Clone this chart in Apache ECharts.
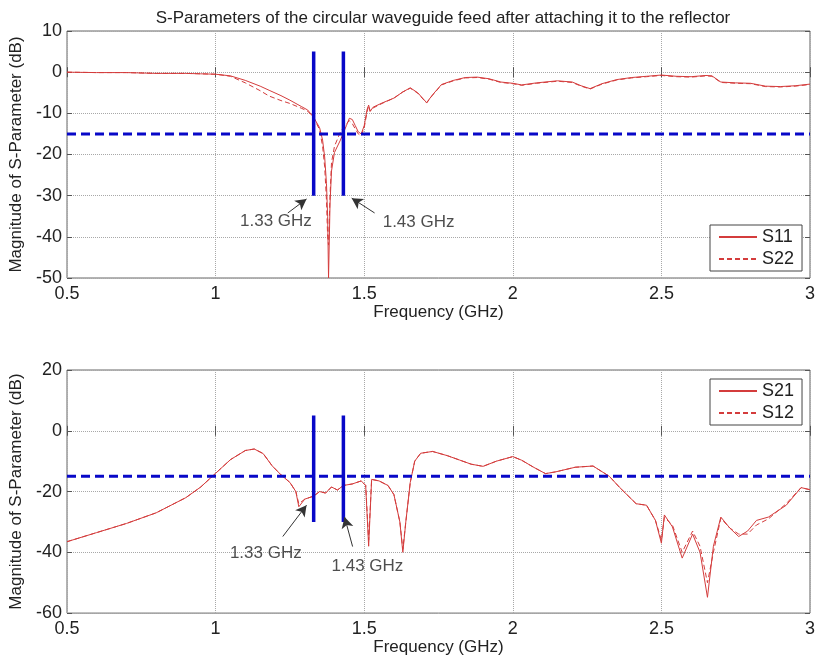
<!DOCTYPE html>
<html>
<head>
<meta charset="utf-8">
<script src="https://cdn.jsdelivr.net/npm/echarts@6/dist/echarts.min.js"></script>
<style>
    html, body { margin: 0; padding: 0; background: #fff; }
    #chart { width: 818px; height: 657px; }
</style>
</head>
<body>
<div id="chart"></div>
<script>
// frequency points (GHz) for the reflection plot
const freqTop = [0.5, 0.6, 0.7, 0.8, 0.9, 0.95, 1.0, 1.05, 1.1, 1.15,
    1.18, 1.22, 1.25, 1.29, 1.31, 1.33, 1.35, 1.36, 1.367, 1.373,
    1.377, 1.38, 1.385, 1.39, 1.40, 1.42, 1.44, 1.45, 1.46, 1.47,
    1.48, 1.49, 1.50, 1.51, 1.515, 1.52, 1.53, 1.56, 1.6, 1.63,
    1.655, 1.68, 1.71, 1.73, 1.76, 1.8, 1.84, 1.88, 1.92, 1.96,
    2.0, 2.03, 2.08, 2.15, 2.2, 2.23, 2.26, 2.3, 2.35, 2.4,
    2.45, 2.5, 2.55, 2.6, 2.65, 2.67, 2.7, 2.75, 2.8, 2.85,
    2.9, 2.95, 3.0];
const s11 = [0, -0.1, -0.1, -0.3, -0.3, -0.4, -0.5, -0.9, -2.0, -3.4,
    -4.4, -5.7, -6.8, -8.4, -9.2, -11, -13.5, -16.5, -20.6, -27,
    -35, -50, -32, -24, -19.5, -16.5, -13, -11.2, -11.5, -13,
    -14.5, -15, -13, -9, -8, -9.5, -8.5, -7.5, -6.3, -4.8,
    -3.8, -5, -7.4, -5.5, -3, -2, -1.3, -1.2, -1.6, -2.4,
    -2.7, -3.1, -2.6, -2.1, -2.4, -3.3, -4.0, -2.8, -1.8, -1.3,
    -1.0, -0.7, -1.0, -1.1, -0.8, -0.9, -2.4, -2.6, -2.7, -3.4,
    -3.5, -3.3, -2.9];
const s22 = [0, -0.1, -0.1, -0.3, -0.3, -0.4, -0.5, -1.0, -2.6, -4.5,
    -5.8, -6.9, -7.6, -8.8, -9.5, -11, -14, -18, -23, -31,
    -40, -42, -30, -22, -18, -14.5, -12.5, -11.8, -12.5, -13.8,
    -15, -15.5, -13.5, -9.5, -8.2, -9.5, -8.7, -7.6, -6.3, -4.8,
    -3.9, -5.1, -7.5, -5.6, -3.1, -2.1, -1.4, -1.3, -1.7, -2.5,
    -2.8, -3.2, -2.7, -2.2, -2.5, -3.4, -4.1, -2.9, -1.9, -1.4,
    -1.1, -0.8, -1.1, -1.2, -0.9, -1.0, -2.5, -2.7, -2.8, -3.5,
    -3.6, -3.4, -3.0];

// frequency points (GHz) for the transmission plot
const freqBot = [0.5, 0.6, 0.7, 0.8, 0.9, 0.95, 1.0, 1.05, 1.1, 1.13,
    1.16, 1.19, 1.22, 1.25, 1.27, 1.28, 1.3, 1.33, 1.35, 1.37,
    1.39, 1.41, 1.43, 1.46, 1.49, 1.505, 1.515, 1.525, 1.55, 1.58,
    1.6, 1.62, 1.63, 1.64, 1.655, 1.67, 1.69, 1.73, 1.78, 1.82,
    1.86, 1.9, 1.945, 2.0, 2.03, 2.07, 2.11, 2.145, 2.21, 2.27,
    2.325, 2.36, 2.415, 2.45, 2.48, 2.5, 2.51, 2.537, 2.57, 2.605,
    2.63, 2.655, 2.675, 2.7, 2.73, 2.76, 2.79, 2.82, 2.86, 2.92,
    2.97, 3.0];
const s21 = [-36.5, -33.5, -30.5, -27, -22, -18.5, -14, -9.5, -6.5, -6,
    -7.5, -11.5, -14.5, -17, -20, -25, -22.5, -21.5, -20, -20.5,
    -18.5, -19.5, -18, -17.5, -16.5, -18, -38, -16, -16.5, -18,
    -21, -30, -40, -30, -17, -10, -7.4, -6.8, -8.2, -9.6,
    -11, -11.7, -10, -8.5, -9.7, -12, -14.1, -13.5, -12, -11.6,
    -15, -18.7, -24, -24.5, -29.5, -37, -27.7, -31.6, -41.9, -34,
    -40, -54.8, -38, -28.4, -32, -34.8, -33, -29.5, -28.4, -24.5,
    -18.7, -19.4];
const s12 = [-36.5, -33.5, -30.5, -27, -22, -18.5, -14, -9.5, -6.5, -6,
    -7.5, -11.5, -14.5, -17, -20, -24, -22.5, -21.5, -20, -20.5,
    -18.5, -19.5, -18, -17.5, -16.5, -18, -36, -16, -16.5, -18,
    -21, -30, -39, -30, -17, -10, -7.4, -6.8, -8.2, -9.6,
    -11, -11.7, -10, -8.5, -9.7, -12, -14.1, -13.5, -12, -11.6,
    -15, -18.7, -24, -24.5, -29.5, -36, -28.5, -31, -40, -33,
    -38, -50, -40, -28.8, -32, -34, -34, -31, -29, -24,
    -18.7, -19.4];

// blue markers: band edges and the -15 dB line
const bandEdges = [1.33, 1.43];
const edgeSpan = [5, -30];
const threshold = -15;

// annotations: label position, arrow tail, arrow head (data coords)
const notesTop = [
    { text: '1.33 GHz', at: [1.203, -36.3], from: [1.243, -34.2], to: [1.306, -30.8] },
    { text: '1.43 GHz', at: [1.683, -36.5], from: [1.535, -34.2], to: [1.458, -30.6] }
];
const notesBot = [
    { text: '1.33 GHz', at: [1.169, -40.3], from: [1.226, -34.8], to: [1.306, -24.5] },
    { text: '1.43 GHz', at: [1.511, -44.5], from: [1.461, -38.1], to: [1.434, -28.4] }
];

const FONT = '"Liberation Sans", Arial, sans-serif';
const RED = '#d43c3c';
const BLUE = '#0808c8';

const zip = (xs, ys) => xs.map((x, i) => [x, ys[i]]);

const chart = echarts.init(document.getElementById('chart'));

function xAxisFor(gridIndex, nameGap) {
    return {
        type: 'value', gridIndex, min: 0.5, max: 3, interval: 0.5,
        name: 'Frequency (GHz)', nameLocation: 'middle', nameGap,
        nameTextStyle: { fontFamily: FONT, fontSize: 17, color: '#222' },
        axisLine: { show: false },
        axisTick: { show: true, inside: true, length: 5, lineStyle: { color: '#555' } },
        axisLabel: { fontFamily: FONT, fontSize: 18, color: '#222', margin: 7 },
        splitLine: { show: true, lineStyle: { color: '#a8a8a8', type: 'dotted' } }
    };
}
function yAxisFor(gridIndex, min, max, interval) {
    return {
        type: 'value', gridIndex, min, max, interval,
        name: 'Magnitude of S-Parameter (dB)', nameLocation: 'middle', nameGap: 40, nameRotate: 90,
        nameTextStyle: { fontFamily: FONT, fontSize: 17, color: '#222' },
        axisLine: { show: false },
        axisTick: { show: true, inside: true, length: 5, lineStyle: { color: '#555' } },
        axisLabel: { fontFamily: FONT, fontSize: 18, color: '#222', margin: 5 },
        splitLine: { show: true, lineStyle: { color: '#a8a8a8', type: 'dotted' } }
    };
}
// mirror axes on top/right carry only the inward ticks
function mirrorX(gridIndex) {
    return {
        type: 'value', gridIndex, min: 0.5, max: 3, interval: 0.5, position: 'top',
        axisLine: { show: false }, axisLabel: { show: false }, splitLine: { show: false },
        axisTick: { show: true, inside: true, length: 5, lineStyle: { color: '#555' } }
    };
}
function mirrorY(gridIndex, min, max, interval) {
    return {
        type: 'value', gridIndex, min, max, interval, position: 'right',
        axisLine: { show: false }, axisLabel: { show: false }, splitLine: { show: false },
        axisTick: { show: true, inside: true, length: 5, lineStyle: { color: '#555' } }
    };
}

function curve(name, xs, ys, idx, dashed) {
    return {
        name, type: 'line', xAxisIndex: idx, yAxisIndex: idx,
        data: zip(xs, ys), showSymbol: false, symbol: 'none', z: 3,
        lineStyle: { color: RED, width: 1, type: dashed ? [5, 3] : 'solid' },
        itemStyle: { color: RED }
    };
}

function markers(idx) {
    const list = bandEdges.map(f => ({
        type: 'line', xAxisIndex: idx, yAxisIndex: idx, silent: true, symbol: 'none', z: 4,
        data: [[f, edgeSpan[0]], [f, edgeSpan[1]]],
        lineStyle: { color: BLUE, width: 3.5 }
    }));
    list.push({
        type: 'line', xAxisIndex: idx, yAxisIndex: idx, silent: true, symbol: 'none', z: 4,
        data: [[0.5, threshold], [3, threshold]],
        lineStyle: { color: BLUE, width: 3, type: [9, 5] }
    });
    return list;
}

function notes(idx, list) {
    return {
        type: 'scatter', xAxisIndex: idx, yAxisIndex: idx, silent: true, symbolSize: 0, z: 5,
        data: list.map(n => ({ value: n.at, name: n.text })),
        label: {
            show: true, position: 'inside', formatter: '{b}',
            fontFamily: FONT, fontSize: 17, color: '#222'
        },
        markLine: {
            silent: true, symbol: ['none', 'arrow'], symbolSize: [9, 11],
            label: { show: false },
            lineStyle: { color: '#333', width: 1, type: 'solid' },
            data: list.map(n => [{ coord: n.from }, { coord: n.to }])
        }
    };
}

function legendFor(names, top) {
    return {
        data: names, orient: 'vertical', left: 710, top,
        itemWidth: 38, itemHeight: 10, itemGap: 4,
        padding: [3, 8, 3, 8],
        backgroundColor: '#fff', borderColor: '#444', borderWidth: 1, borderRadius: 0,
        textStyle: { fontFamily: FONT, fontSize: 18, color: '#222' },
        itemStyle: { opacity: 0 },
        lineStyle: { inherit: true }
    };
}

chart.setOption({
    animation: false,
    backgroundColor: '#fff',
    title: {
        text: 'S-Parameters of the circular waveguide feed after attaching it to the reflector',
        left: 438, top: 5, textAlign: 'center',
        textStyle: { fontFamily: FONT, fontSize: 17, fontWeight: 'normal', color: '#222' }
    },
    grid: [
        { left: 67, right: 7, top: 31, height: 247, show: true, borderColor: '#666', borderWidth: 1, backgroundColor: '#fff' },
        { left: 67, right: 7, top: 370, height: 248, show: true, borderColor: '#666', borderWidth: 1, backgroundColor: '#fff' }
    ],
    legend: [legendFor(['S11', 'S22'], 225), legendFor(['S21', 'S12'], 379)],
    xAxis: [xAxisFor(0, 20), xAxisFor(1, 17), mirrorX(0), mirrorX(1)],
    yAxis: [yAxisFor(0, -50, 10, 10), yAxisFor(1, -60, 20, 20), mirrorY(0, -50, 10, 10), mirrorY(1, -60, 20, 20)],
    series: [
        curve('S11', freqTop, s11, 0, false),
        curve('S22', freqTop, s22, 0, true),
        curve('S21', freqBot, s21, 1, false),
        curve('S12', freqBot, s12, 1, true),
        ...markers(0),
        ...markers(1),
        notes(0, notesTop),
        notes(1, notesBot)
    ]
});
</script>
</body>
</html>
